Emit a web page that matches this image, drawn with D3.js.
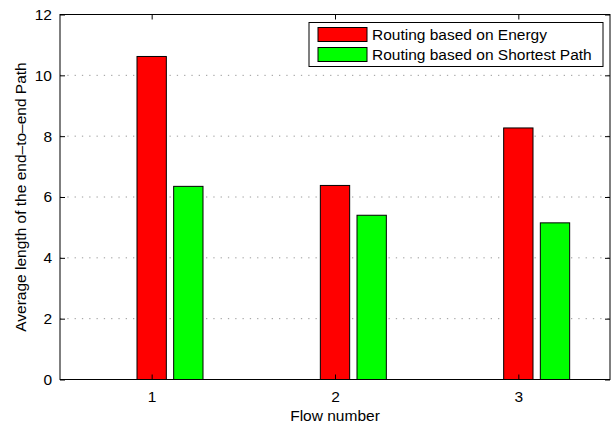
<!DOCTYPE html>
<html><head><meta charset="utf-8">
<script src="https://cdn.jsdelivr.net/npm/d3@7"></script>
<style>
html,body{margin:0;padding:0;background:#fff;}
svg{display:block;font-family:"Liberation Sans",Arial,Helvetica,sans-serif;}
</style></head>
<body>
<svg id="chart" width="613" height="423"></svg>
<script>
const flows = [1, 2, 3];
const seriesNames = ["", "Routing based on Energy", "Routing based on Shortest Path"];
const zeroSeries = [0, 0, 0];
const energy = [10.62, 6.38, 8.27];
const shortest = [6.35, 5.4, 5.15];
const seriesColors = ["#0000ff", "#ff0000", "#00ff00"];
const yTicks = [0, 2, 4, 6, 8, 10, 12];

const svg = d3.select("#chart");
const L = 60, R = 610, T = 14.5, B = 379.5;
const fs = 15.5;

const x = d3.scaleLinear().domain([0.5, 3.5]).range([L, R]);
const y = d3.scaleLinear().domain([0, 12]).range([B, T]);

// grid
svg.append("g").selectAll("line").data(yTicks.filter(d => d > 0 && d < 12)).join("line")
  .attr("x1", L).attr("x2", R).attr("y1", d => y(d)).attr("y2", d => y(d))
  .attr("stroke", "#9a9a9a").attr("stroke-width", 1).attr("stroke-dasharray", "1.3,6");

// bars
const allSeries = [zeroSeries, energy, shortest];
const offsets = [-0.2, 0, 0.2];
const bw = 0.16;
allSeries.forEach((vals, si) => {
  svg.append("g").selectAll("rect").data(flows).join("rect")
    .attr("x", (d, i) => x(d + offsets[si] - bw / 2))
    .attr("width", x(bw) - x(0))
    .attr("y", (d, i) => y(vals[i]))
    .attr("height", (d, i) => y(0) - y(vals[i]))
    .attr("fill", seriesColors[si])
    .attr("stroke", "#000").attr("stroke-width", 1);
});

// box
svg.append("rect").attr("x", L).attr("y", T).attr("width", R - L).attr("height", B - T)
  .attr("fill", "none").attr("stroke", "#000").attr("stroke-width", 1);

// axes via d3
const yAxisL = d3.axisLeft(y).tickValues(yTicks).tickSize(-5).tickPadding(8).tickFormat(d3.format("d"));
const yAxisR = d3.axisRight(y).tickValues(yTicks).tickSize(-5).tickFormat("");
const xAxisB = d3.axisBottom(x).tickValues(flows).tickSize(-5).tickPadding(11).tickFormat(d3.format("d"));
const xAxisT = d3.axisTop(x).tickValues(flows).tickSize(-5).tickFormat("");

function style(g) {
  g.select(".domain").remove();
  g.selectAll(".tick line").attr("stroke", "#000");
  g.selectAll(".tick text").attr("fill", "#000").attr("font-size", fs)
    .attr("font-family", "Liberation Sans, Arial, sans-serif");
}
svg.append("g").attr("transform", `translate(${L},0)`).call(yAxisL).call(style);
svg.append("g").attr("transform", `translate(${R},0)`).call(yAxisR).call(style);
svg.append("g").attr("transform", `translate(0,${B})`).call(xAxisB).call(style);
svg.append("g").attr("transform", `translate(0,${T})`).call(xAxisT).call(style);

// axis labels
svg.append("text").attr("x", (L + R) / 2).attr("y", 420.5).attr("text-anchor", "middle")
  .attr("font-size", fs).text("Flow number");
svg.append("text").attr("transform", `translate(26,${(T + B) / 2}) rotate(-90)`)
  .attr("text-anchor", "middle").attr("font-size", fs)
  .text("Average length of the end\u2013to\u2013end Path");

// legend
const lg = svg.append("g");
lg.append("rect").attr("x", 309).attr("y", 22.5).attr("width", 294).attr("height", 44)
  .attr("fill", "#fff").attr("stroke", "#000").attr("stroke-width", 1);
[1, 2].forEach((si, k) => {
  lg.append("rect").attr("x", 318).attr("y", 27.5 + k * 20).attr("width", 49).attr("height", 14)
    .attr("fill", seriesColors[si]).attr("stroke", "#000").attr("stroke-width", 1);
  lg.append("text").attr("x", 372).attr("y", 40 + k * 20).attr("font-size", fs)
    .text(seriesNames[si]);
});
</script>
</body></html>
